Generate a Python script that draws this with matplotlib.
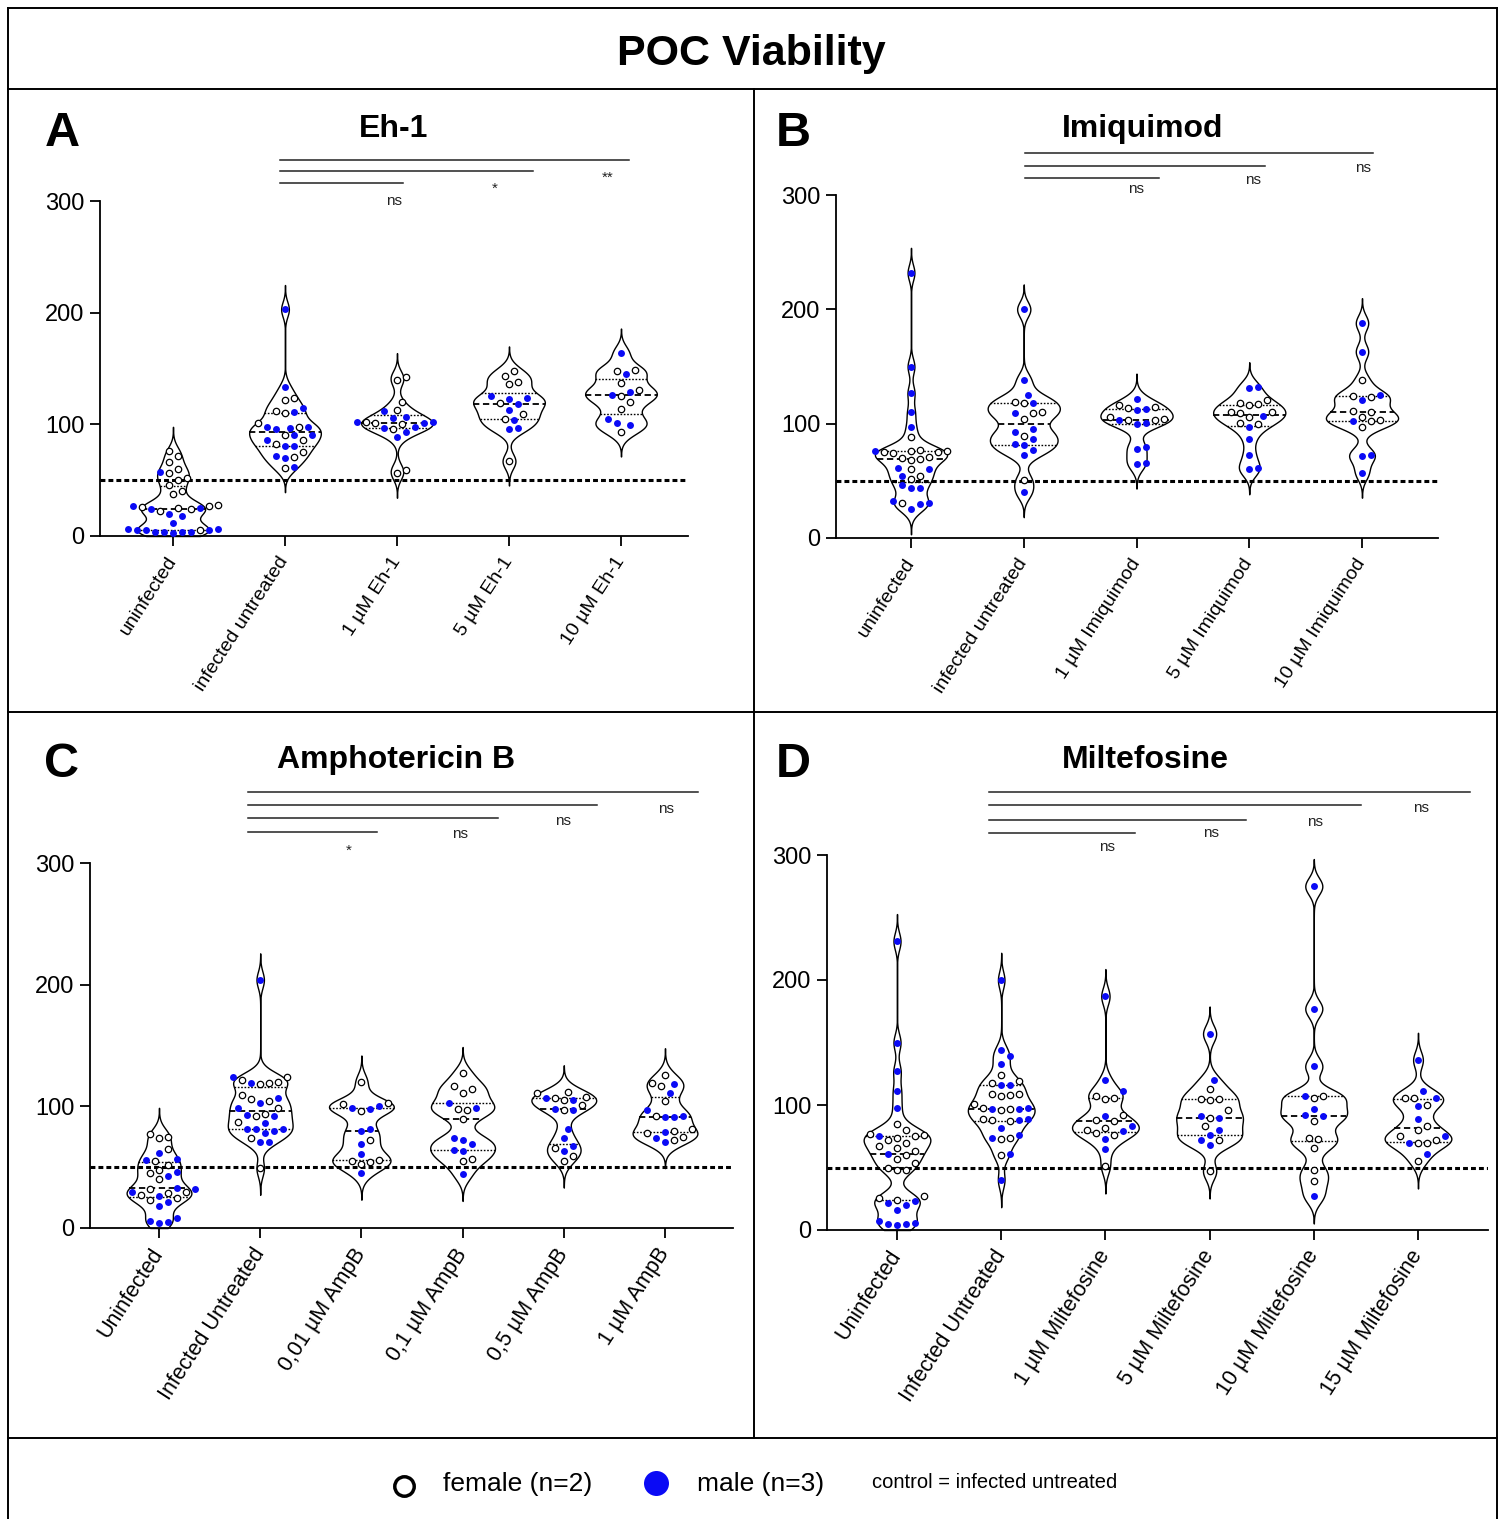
import numpy as np
import matplotlib
matplotlib.use('Agg')
import matplotlib.pyplot as plt
from matplotlib.lines import Line2D

plt.rcParams['font.family'] = ['Liberation Sans', 'DejaVu Sans']

W, H = 1502, 1519

# --- data: % viability, female (open) and male (blue) per group ---
a_labels = ['uninfected', 'infected untreated', '1 µM Eh-1', '5 µM Eh-1', '10 µM Eh-1']
a_female = [
    [76, 72, 66, 60, 56, 52, 50, 46, 40, 38, 28, 27, 26, 25, 24, 22, 5],
    [124, 122, 112, 110, 101, 98, 90, 86, 82, 75, 71, 61],
    [142, 140, 120, 113, 102, 101, 100, 96, 59, 56],
    [148, 143, 138, 136, 119, 109, 105, 67],
    [149, 148, 137, 131, 125, 120, 114, 93],
]
a_male = [
    [57, 27, 25, 24, 20, 18, 12, 6, 5, 5, 4, 4, 4, 6, 5, 4, 3],
    [203, 133, 115, 111, 98, 98, 97, 96, 90, 90, 86, 81, 81, 72, 70, 62],
    [112, 107, 106, 102, 102, 101, 98, 97, 93, 89],
    [125, 124, 123, 118, 113, 104, 97, 96],
    [164, 145, 129, 126, 105, 101, 99],
]

b_labels = ['uninfected', 'infected untreated', '1 µM Imiquimod', '5 µM Imiquimod', '10 µM Imiquimod']
b_female = [
    [88, 77, 76, 76, 75, 75, 74, 71, 70, 69, 68, 60, 54, 52, 31],
    [119, 118, 110, 109, 104, 89, 51],
    [116, 115, 114, 106, 104, 103, 103],
    [121, 118, 117, 116, 110, 110, 109, 106, 101, 100],
    [138, 124, 123, 111, 110, 106, 103, 102, 97],
]
b_male = [
    [232, 150, 127, 110, 97, 76, 61, 60, 54, 46, 44, 44, 32, 31, 30, 25],
    [200, 138, 125, 118, 109, 95, 93, 87, 82, 81, 77, 73, 40],
    [122, 113, 112, 103, 101, 100, 80, 78, 66, 65],
    [132, 131, 107, 97, 87, 73, 61, 60],
    [188, 163, 125, 121, 102, 73, 72, 57],
]

c_labels = ['Uninfected', 'Infected Untreated', '0,01 µM AmpB', '0,1 µM AmpB', '0,5 µM AmpB', '1 µM AmpB']
c_female = [
    [77, 75, 74, 65, 55, 52, 48, 45, 40, 32, 30, 29, 27, 25, 23],
    [124, 122, 120, 119, 118, 109, 106, 104, 99, 94, 92, 87, 74, 49],
    [120, 103, 102, 96, 72, 56, 55, 54, 53],
    [127, 117, 114, 111, 98, 97, 90, 57, 55],
    [112, 111, 108, 107, 105, 101, 97, 66, 59, 55],
    [126, 119, 117, 104, 92, 81, 80, 78, 75, 72],
]
c_male = [
    [62, 57, 56, 46, 43, 33, 32, 30, 26, 21, 18, 8, 6, 5, 4],
    [204, 124, 119, 107, 103, 99, 93, 92, 86, 81, 81, 81, 80, 78, 71, 71],
    [100, 99, 98, 81, 80, 69, 61, 45],
    [103, 99, 74, 72, 69, 64, 63, 44],
    [107, 105, 98, 97, 81, 74, 67, 63],
    [118, 111, 97, 92, 91, 91, 79, 74, 71],
]

d_labels = ['Uninfected', 'Infected Untreated', '1 µM Miltefosine', '5 µM Miltefosine',
            '10 µM Miltefosine', '15 µM Miltefosine']
d_female = [
    [85, 80, 77, 76, 75, 74, 72, 70, 67, 66, 63, 60, 57, 54, 50, 48, 48, 27, 26, 24],
    [124, 119, 118, 109, 109, 108, 107, 101, 98, 97, 96, 89, 88, 87, 74, 73, 60],
    [107, 106, 105, 92, 88, 87, 82, 80, 78, 76, 51],
    [113, 105, 105, 104, 96, 90, 83, 72, 47],
    [107, 106, 87, 74, 73, 66, 48, 39],
    [106, 106, 100, 83, 80, 75, 72, 70, 70, 55],
]
d_male = [
    [231, 150, 127, 111, 98, 75, 61, 23, 22, 20, 16, 7, 6, 5, 5, 4],
    [200, 144, 139, 133, 116, 116, 98, 97, 97, 89, 88, 82, 76, 74, 61, 40],
    [187, 120, 111, 91, 83, 79, 73, 65],
    [157, 120, 91, 90, 80, 76, 72, 68],
    [275, 177, 131, 107, 97, 92, 91, 27],
    [136, 111, 106, 99, 89, 75, 70, 61],
]

# significance bars vs infected untreated: (x start, x end, y line, label, x label, y label)
a_sig = [(0.955, 2.05, 316, 'ns', 1.97, 300), (0.955, 3.21, 327, '*', 2.875, 311),
         (0.955, 4.07, 337, '**', 3.88, 321)]
b_sig = [(1.01, 2.2, 315, 'ns', 2.0, 305), (1.01, 3.14, 325.4, 'ns', 3.03, 313),
         (1.01, 4.1, 336.7, 'ns', 4.01, 323.6)]
c_sig = [(0.88, 2.15, 325.5, '*', 1.87, 310), (0.88, 3.35, 337, 'ns', 2.97, 323.8),
         (0.88, 4.33, 347.7, 'ns', 3.99, 334.5), (0.88, 5.33, 358.4, 'ns', 5.01, 344.4)]
d_sig = [(0.88, 2.28, 317.6, 'ns', 2.02, 306.4), (0.88, 3.35, 328, 'ns', 3.01, 317.6),
         (0.88, 4.45, 340, 'ns', 4.01, 326.4), (0.88, 5.5, 350.4, 'ns', 5.03, 337.6)]

THRESHOLD = 50
BLUE = '#0a0af5'

fig = plt.figure(figsize=(W / 100, H / 100), dpi=100)


def px_line(x, y, **kw):
    fig.add_artist(Line2D(np.array(x) / W, 1 - np.array(y) / H, transform=fig.transFigure,
                          color='black', lw=1.4, **kw))


def kde_shape(vals, h=6.8):
    lo = max(vals.min() - 3.2 * h, 0)
    ys = np.linspace(lo, vals.max() + 3.2 * h, 500)
    dens = np.exp(-0.5 * ((ys[:, None] - vals[None, :]) / h) ** 2).sum(axis=1)
    return ys, dens / dens.max()


def swarm(vals, sx, sy, d=9.0):
    # simple beeswarm in pixel space
    xs = np.zeros(len(vals))
    placed = []
    for i in np.argsort(vals, kind='stable'):
        y = vals[i] * sy
        k = 0
        while True:
            cands = [0.0] if k == 0 else [k * d / 2, -k * d / 2]
            ok = None
            for c in cands:
                if all((c - px) ** 2 + (y - py) ** 2 >= d * d for px, py in placed):
                    ok = c
                    break
            if ok is not None:
                break
            k += 1
        placed.append((ok, y))
        xs[i] = ok / sx
    return xs


def panel(geom, labels, female, male, sig, title, letter, title_xy, letter_xy, tick_fs):
    left, right, cat0, sp, y0, y300 = geom
    ppu = (y0 - y300) / 300
    lo, hi = -25, 385
    bot_px = y0 - lo * ppu
    top_px = y0 - hi * ppu
    ax = fig.add_axes([left / W, 1 - bot_px / H, (right - left) / W, (bot_px - top_px) / H])
    ax.patch.set_visible(False)
    ax.set_xlim((left - cat0) / sp, (right - cat0) / sp)
    ax.set_ylim(lo, hi)

    for i, (f, m) in enumerate(zip(female, male)):
        vals = np.array(f + m, float)
        is_m = np.array([False] * len(f) + [True] * len(m))
        ys, w = kde_shape(vals)
        w = w * 0.32
        ax.fill_betweenx(ys, i - w, i + w, facecolor='white', edgecolor='black', lw=1.0, zorder=2)
        q1, med, q3 = np.percentile(vals, [25, 50, 75])
        for q, ls, lw in [(q1, (0, (1.2, 1.2)), 1.0), (med, (0, (3.5, 2)), 1.3), (q3, (0, (1.2, 1.2)), 1.0)]:
            wq = np.interp(q, ys, w)
            ax.plot([i - wq, i + wq], [q, q], color='black', ls=ls, lw=lw, zorder=3)
        xs = swarm(vals, sp, ppu)
        ax.plot(i + xs[~is_m], vals[~is_m], 'o', ls='none', mfc='white', mec='black',
                ms=4.6, mew=0.9, zorder=4)
        ax.plot(i + xs[is_m], vals[is_m], 'o', ls='none', color=BLUE, mec='none',
                ms=5.0, zorder=4)

    ax.axhline(THRESHOLD, color='black', lw=2.2, ls=(0, (1.6, 1.0)), zorder=3.5)

    for x1, x2, yl, lab, xt, yt in sig:
        ax.plot([x1, x2], [yl, yl], color='#222222', lw=1.1, clip_on=False)
        ax.text(xt, yt, lab, ha='center', va='center', fontsize=11, color='#222222')

    for s in ['top', 'right']:
        ax.spines[s].set_visible(False)
    ax.spines['left'].set_bounds(0, 300)
    ax.spines['bottom'].set_position(('data', 0))
    for s in ['left', 'bottom']:
        ax.spines[s].set_linewidth(1.3)
    ax.set_yticks([0, 100, 200, 300])
    ax.set_xticks(range(len(labels)))
    ax.set_xticklabels(labels, rotation=57, ha='right', va='center', rotation_mode='anchor')
    ax.tick_params(axis='both', direction='out', length=7, width=1.3)
    ax.tick_params(axis='y', labelsize=17, pad=4)
    ax.tick_params(axis='x', labelsize=tick_fs, pad=9)

    fig.text(title_xy[0] / W, 1 - title_xy[1] / H, title, ha='center', va='center',
             fontsize=23, fontweight='bold')
    fig.text(letter_xy[0] / W, 1 - letter_xy[1] / H, letter, ha='center', va='center',
             fontsize=35, fontweight='bold')
    return ax


# geometry in pixels: y-axis x, x-axis end, first category x, spacing, y of 0, y of 300
panel((100, 688, 173, 112, 536, 201), a_labels, a_female, a_male, a_sig,
      'Eh-1', 'A', (394, 129), (62, 134), 14)
panel((836, 1438, 911, 112.75, 538, 195), b_labels, b_female, b_male, b_sig,
      'Imiquimod', 'B', (1143, 129), (793, 134), 14)
panel((90, 733, 159, 101.2, 1228, 863), c_labels, c_female, c_male, c_sig,
      'Amphotericin B', 'C', (396, 760), (62, 764), 15.5)
panel((827, 1488, 897, 104.2, 1230, 855), d_labels, d_female, d_male, d_sig,
      'Miltefosine', 'D', (1145, 760), (793, 764), 15.5)

# frame
px_line([8, 8], [8, 1519])
px_line([1497, 1497], [8, 1519])
px_line([8, 1497], [8, 8])
px_line([8, 1497], [89, 89])
px_line([754, 754], [89, 1438])
px_line([8, 1497], [712, 712])
px_line([8, 1497], [1438, 1438])

fig.text(751 / W, 1 - 54 / H, 'POC Viability', ha='center', va='center', fontsize=31, fontweight='bold')

# legend
fig.add_artist(Line2D([404 / W], [1 - 1486 / H], transform=fig.transFigure, marker='o', ls='none',
                      mfc='white', mec='black', ms=14, mew=2.5))
fig.add_artist(Line2D([656 / W], [1 - 1483 / H], transform=fig.transFigure, marker='o', ls='none',
                      color=BLUE, mec='none', ms=18))
fig.text(443 / W, 1 - 1484 / H, 'female (n=2)', ha='left', va='center', fontsize=19)
fig.text(697 / W, 1 - 1484 / H, 'male (n=3)', ha='left', va='center', fontsize=19)
fig.text(872 / W, 1 - 1482 / H, 'control = infected untreated', ha='left', va='center', fontsize=14.5)

fig.savefig('out.png', dpi=100)
